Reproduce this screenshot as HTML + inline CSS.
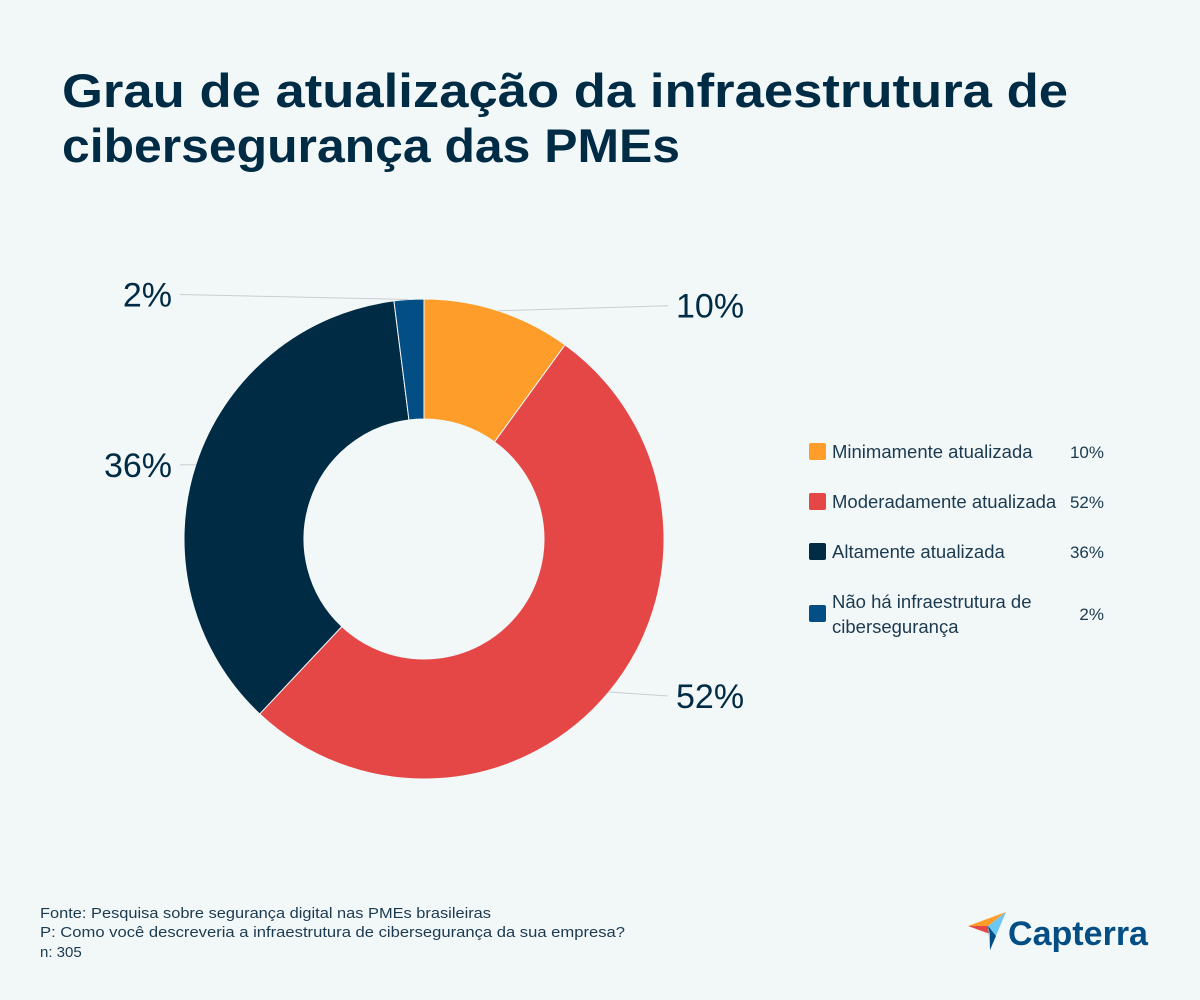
<!DOCTYPE html>
<html><head><meta charset="utf-8"><style>
html,body{margin:0;padding:0;background:#f2f7f8}
svg{display:block}
text{font-family:"Liberation Sans",sans-serif}
</style></head><body>
<svg id="chart" width="1200" height="1000" viewBox="0 0 1200 1000">
<rect width="1200" height="1000" fill="#f2f7f8"/>
<g fill="#002b44" font-weight="bold" font-size="47">
<text x="62" y="107" textLength="1006" lengthAdjust="spacingAndGlyphs">Grau de atualização da infraestrutura de</text>
<text x="62" y="162" textLength="618" lengthAdjust="spacingAndGlyphs">cibersegurança das PMEs</text>
</g>
<g id="donut"></g>
<g id="legend"></g>
<g fill="#1b3a50" font-size="15">
<text x="40" y="918" textLength="451" lengthAdjust="spacingAndGlyphs">Fonte: Pesquisa sobre segurança digital nas PMEs brasileiras</text>
<text x="40" y="937" textLength="585" lengthAdjust="spacingAndGlyphs">P: Como você descreveria a infraestrutura de cibersegurança da sua empresa?</text>
<text x="40" y="957">n: 305</text>
</g>
<g>
<polygon points="968,926 1006,912 988,926" fill="#ff9d2a"/>
<polygon points="968,926 988,926 990,934" fill="#e44746"/>
<polygon points="988,926 1006,912 990,950" fill="#6ec7f1"/>
<polygon points="988,926 990,934 990,950 996,936" fill="#044e86"/>
<text x="1008" y="945" font-size="34" font-weight="bold" fill="#044e86" textLength="140" lengthAdjust="spacingAndGlyphs">Capterra</text>
</g>
</svg>
<script>
const categories = ["Minimamente atualizada","Moderadamente atualizada","Altamente atualizada","Não há infraestrutura de cibersegurança"];
const values = [10, 52, 36, 2];
const valueLabels = ["10%","52%","36%","2%"];
const colors = ["#ff9d2a","#e44746","#002b44","#044e86"];
const NS = "http://www.w3.org/2000/svg";
const cx = 424, cy = 539, R = 240, r = 120;
const total = values.reduce((a,b)=>a+b,0);
const donut = document.getElementById("donut");
function pt(rad, frac){const a = frac*2*Math.PI; return [cx + rad*Math.sin(a), cy - rad*Math.cos(a)];}
let acc = 0;
values.forEach((v,i)=>{
  const f0 = acc/total, f1 = (acc+v)/total; acc += v;
  const large = (f1-f0) > 0.5 ? 1 : 0;
  const [x0,y0]=pt(R,f0),[x1,y1]=pt(R,f1),[x2,y2]=pt(r,f1),[x3,y3]=pt(r,f0);
  const p = document.createElementNS(NS,"path");
  p.setAttribute("d",`M${x0},${y0} A${R},${R} 0 ${large} 1 ${x1},${y1} L${x2},${y2} A${r},${r} 0 ${large} 0 ${x3},${y3} Z`);
  p.setAttribute("fill",colors[i]);
  p.setAttribute("stroke","#f2f7f8");
  p.setAttribute("stroke-width","1");
  
  
  donut.appendChild(p);
  const fm = (f0+f1)/2;
  const [ex,ey] = pt(R,fm);
  const right = ex >= cx;
  const lx = right ? 668 : 180;
  const ly = ey + (right ? (ey < cy ? -5 : 4) : (ey < 400 ? -5 : 0));
  const ln = document.createElementNS(NS,"line");
  ln.setAttribute("x1",ex);ln.setAttribute("y1",ey);
  ln.setAttribute("x2",lx);ln.setAttribute("y2",ly);
  ln.setAttribute("stroke","#c8ced2");ln.setAttribute("stroke-width","1");
  
  
  donut.appendChild(ln);
  const t = document.createElementNS(NS,"text");
  t.setAttribute("x", right ? 676 : 172);
  t.setAttribute("y", ly + 12);
  t.setAttribute("text-anchor", right ? "start" : "end");
  t.setAttribute("font-size","34");
  t.setAttribute("fill","#002b44");
  t.textContent = valueLabels[i];
  
  
  donut.appendChild(t);
});
const legend = document.getElementById("legend");
const rowY = [452, 502, 552, 614];
categories.forEach((c,i)=>{
  const g = document.createElementNS(NS,"g");
  
  
  const sq = document.createElementNS(NS,"rect");
  sq.setAttribute("x",809);sq.setAttribute("y",rowY[i]-9);sq.setAttribute("width",17);sq.setAttribute("height",17);
  sq.setAttribute("rx",2);sq.setAttribute("fill",colors[i]);
  
  
  g.appendChild(sq);
  const lines = i===3 ? ["Não há infraestrutura de","cibersegurança"] : [c];
  lines.forEach((l,k)=>{
    const t = document.createElementNS(NS,"text");
    t.setAttribute("x",832);
    t.setAttribute("y", rowY[i] + 6 + (lines.length>1 ? (k*25 - 12) : 0));
    t.setAttribute("font-size","18.5");t.setAttribute("fill","#1b3a50");
    t.textContent = l;
    
    
    g.appendChild(t);
  });
  const v = document.createElementNS(NS,"text");
  v.setAttribute("x",1104);v.setAttribute("y",rowY[i]+6);v.setAttribute("text-anchor","end");
  v.setAttribute("font-size","17");v.setAttribute("fill","#1b3a50");
  v.textContent = valueLabels[i];
  
  
  g.appendChild(v);
  legend.appendChild(g);
});
</script>
</body></html>
